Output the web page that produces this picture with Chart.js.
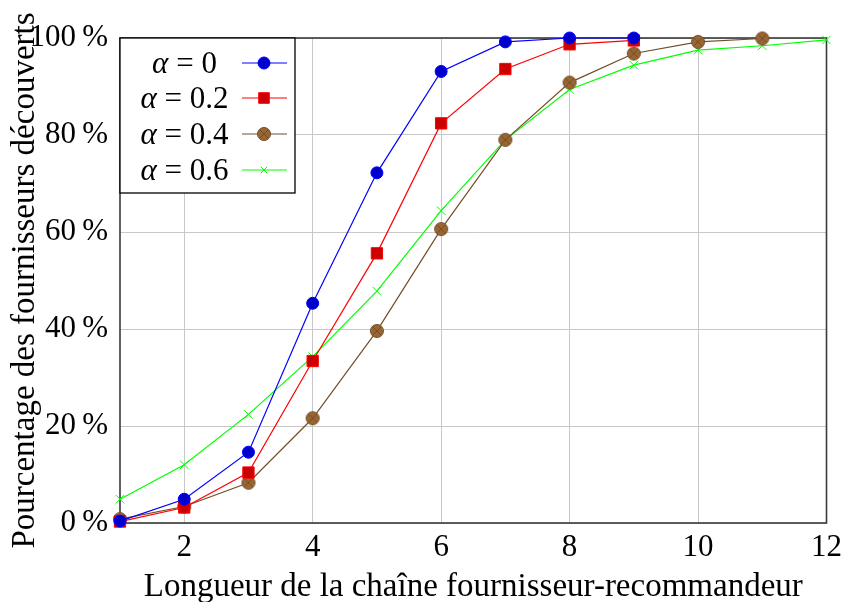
<!DOCTYPE html>
<html>
<head>
<meta charset="utf-8">
<script src="https://cdn.jsdelivr.net/npm/chart.js@4/dist/chart.umd.min.js"></script>
<style>
html,body{margin:0;padding:0;background:#fff;}
#wrap{width:848px;height:602px;position:relative;}
</style>
</head>
<body>
<div id="wrap"><canvas id="c" width="848" height="602"></canvas></div>
<script>
// ---- data ----
const chainLength = [1,2,3,4,5,6,7,8,9,10,11,12];
const alpha0  = [0.4, 4.9, 14.6, 45.3, 72.2, 93.1, 99.2, 100, 100];
const alpha02 = [0.3, 3.2, 10.4, 33.4, 55.6, 82.4, 93.6, 98.7, 99.5];
const alpha04 = [0.8, 3.4, 8.3, 21.6, 39.6, 60.6, 79.0, 90.8, 96.8, 99.2, 99.9];
const alpha06 = [4.9, 12.0, 22.4, 34.3, 47.8, 64.4, 79.0, 89.4, 94.4, 97.5, 98.4, 99.6];
const alphaLabels = ['0', '0.2', '0.4', '0.6'];
const xTickValues = [2, 4, 6, 8, 10, 12];
const yTickValues = [0, 20, 40, 60, 80, 100];
const xTitle = 'Longueur de la chaîne fournisseur-recommandeur';
const yTitle = 'Pourcentage des fournisseurs découverts';

const FONT = '"Liberation Serif", "DejaVu Serif", serif';

function toPoints(vals){ return vals.map((v,i)=>({x: chainLength[i], y: v})); }

// otimes marker
function makeOtimes(){
  const s = 18, c = document.createElement('canvas');
  c.width = s; c.height = s;
  const g = c.getContext('2d');
  const r = 6.5, cx = s/2, cy = s/2;
  g.beginPath(); g.arc(cx, cy, r, 0, Math.PI*2);
  g.fillStyle = 'rgb(153,102,51)'; g.fill();
  g.lineWidth = 1; g.strokeStyle = 'rgb(115,77,38)'; g.stroke();
  const d = r*0.7;
  g.beginPath();
  g.moveTo(cx-d, cy-d); g.lineTo(cx+d, cy+d);
  g.moveTo(cx+d, cy-d); g.lineTo(cx-d, cy+d);
  g.stroke();
  return c;
}
const otimes = makeOtimes();

const seriesVals = [alpha0, alpha02, alpha04, alpha06];
const styles = [
  {line:'rgb(0,0,255)', fill:'rgb(0,0,204)', pointStyle:'circle', radius:6},
  {line:'rgb(255,0,0)', fill:'rgb(204,0,0)', pointStyle:'rect', radius:8},
  {line:'rgb(115,77,38)', fill:'rgb(153,102,51)', pointStyle:otimes, radius:6.5},
  {line:'rgb(0,255,0)', fill:'rgb(0,255,0)', pointStyle:'crossRot', radius:6}
];

const datasets = seriesVals.map((vals, i) => ({
  label: 'α = ' + alphaLabels[i],
  data: toPoints(vals),
  borderColor: styles[i].line,
  backgroundColor: styles[i].fill,
  pointBorderColor: styles[i].line,
  pointBackgroundColor: styles[i].fill,
  pointStyle: styles[i].pointStyle,
  pointRadius: styles[i].radius,
  pointHoverRadius: styles[i].radius,
  pointBorderWidth: 1,
  borderWidth: 1.2,
  tension: 0,
  clip: false
}));

const framePlugin = {
  id: 'frame',
  beforeDatasetsDraw(chart){
    const {ctx, chartArea:a} = chart;
    ctx.save();
    ctx.strokeStyle = '#3a3a3a';
    ctx.lineWidth = 1.6;
    ctx.strokeRect(a.left, a.top, a.right - a.left, a.bottom - a.top);
    ctx.restore();
  },
  afterDraw(chart){
    const {ctx, chartArea:a} = chart;
    ctx.save();
    ctx.fillStyle = '#000';
    ctx.font = '33px ' + FONT;
    ctx.textAlign = 'center';
    ctx.textBaseline = 'alphabetic';
    ctx.fillText(xTitle, (a.left + a.right) / 2, 596);
    ctx.translate(34, (a.top + a.bottom) / 2);
    ctx.rotate(-Math.PI / 2);
    ctx.fillText(yTitle, 0, 0);
    ctx.restore();
  }
};

const legendPlugin = {
  id: 'boxLegend',
  afterDatasetsDraw(chart){
    const {ctx, chartArea:a} = chart;
    const left = a.left, top = a.top, w = 175, h = 155;
    ctx.save();
    ctx.fillStyle = '#fff';
    ctx.fillRect(left, top, w, h);
    ctx.strokeStyle = '#000';
    ctx.lineWidth = 1.3;
    ctx.strokeRect(left, top, w, h);
    const rowY = [25, 60, 96, 132];
    const fs = 31;
    chart.data.datasets.forEach((ds, i) => {
      const y = top + rowY[i];
      const cx = left + 64.5;
      const alphaStr = 'α';
      const restStr = ' = ' + alphaLabels[i];
      ctx.font = 'italic ' + fs + 'px ' + FONT;
      const wa = ctx.measureText(alphaStr).width;
      ctx.font = fs + 'px ' + FONT;
      const wr = ctx.measureText(restStr).width;
      const x0 = cx - (wa + wr) / 2;
      ctx.fillStyle = '#000';
      ctx.textBaseline = 'alphabetic';
      ctx.textAlign = 'left';
      const by = y + 10;
      ctx.font = 'italic ' + fs + 'px ' + FONT;
      ctx.fillText(alphaStr, x0, by);
      ctx.font = fs + 'px ' + FONT;
      ctx.fillText(restStr, x0 + wa, by);
      // sample line
      ctx.strokeStyle = ds.borderColor;
      ctx.lineWidth = ds.borderWidth;
      ctx.beginPath();
      ctx.moveTo(left + 122, y); ctx.lineTo(left + 167, y);
      ctx.stroke();
      ctx.fillStyle = ds.pointBackgroundColor;
      ctx.strokeStyle = ds.pointBorderColor;
      ctx.lineWidth = 1;
      const r = ds.pointStyle === 'crossRot' ? 4.5 : (ds.pointStyle === 'rect' ? 7.5 : ds.pointRadius);
      Chart.helpers.drawPoint(ctx, {pointStyle: ds.pointStyle, radius: r, rotation: 0, borderWidth: 1}, left + 144, y);
    });
    ctx.restore();
  }
};

new Chart(document.getElementById('c'), {
  type: 'line',
  data: { datasets },
  options: {
    responsive: false,
    animation: false,
    layout: { padding: { top: 38, right: 19, left: 0, bottom: 0 } },
    plugins: { legend: { display: false }, tooltip: { enabled: false } },
    scales: {
      x: {
        type: 'linear',
        min: 1, max: 12,
        afterFit(s){ s.height = 79; },
        afterBuildTicks(s){ s.ticks = xTickValues.map(v => ({value: v})); },
        grid: { color: '#c8c8c8', lineWidth: 1, drawTicks: false },
        border: { display: false },
        ticks: { color: '#000', font: { family: FONT, size: 31 }, padding: 6, maxRotation: 0 },
        title: { display: false }
      },
      y: {
        min: 0, max: 100,
        afterFit(s){ s.width = 120; },
        afterBuildTicks(s){ s.ticks = yTickValues.map(v => ({value: v})); },
        grid: { color: '#c8c8c8', lineWidth: 1, drawTicks: false },
        border: { display: false },
        ticks: { color: '#000', font: { family: FONT, size: 31 }, padding: 12, callback: v => v + '\u2009%' },
        title: { display: false }
      }
    }
  },
  plugins: [framePlugin, legendPlugin]
});
</script>
</body>
</html>
